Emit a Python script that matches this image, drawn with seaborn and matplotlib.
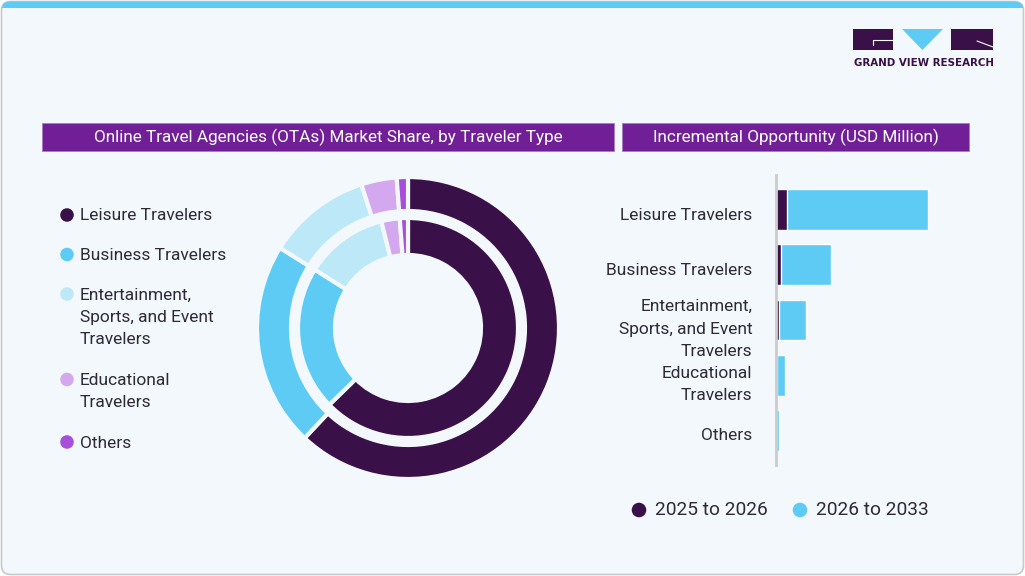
import matplotlib
matplotlib.use("Agg")
import matplotlib.pyplot as plt
import seaborn as sns
import pandas as pd
from matplotlib.patches import FancyBboxPatch, Rectangle, Polygon
from matplotlib.transforms import ScaledTranslation

# ================= Data =================
categories = ["Leisure Travelers", "Business Travelers",
              "Entertainment, Sports, and Event Travelers",
              "Educational Travelers", "Others"]
wrapped_labels = ["Leisure Travelers", "Business Travelers",
                  "Entertainment,\nSports, and Event\nTravelers",
                  "Educational\nTravelers", "Others"]
share_2025 = [62.7, 21.2, 12.2, 2.7, 1.2]      # inner ring
share_2033 = [62.0, 21.9, 11.1, 3.8, 1.2]      # outer ring
opp_2025_2026 = [11, 5, 3, 0.8, 0.3]
opp_2026_2033 = [141, 50, 27, 8.2, 2.7]
period_labels = ["2025 to 2026", "2026 to 2033"]

# ================= Style =================
BG = "#f3f8fc"
TEXT = "#2e2a36"
PURPLE_BAR = "#711f97"
slice_colors = ["#3a1048", "#5ecbf5", "#bde8f8", "#d4a8ee", "#a64fd8"]
C_DARK = "#3a1048"
C_LIGHT = "#5ecbf5"
LSP = 1.62

sns.set_style("white")
plt.rcParams['font.family'] = ['Roboto', 'DejaVu Sans']

W, H = 1025, 576
fig = plt.figure(figsize=(W / 100, H / 100), dpi=100)
fig.patch.set_facecolor("white")


def fx(px):
    return px / W


def fy(py):
    return 1 - py / H


# background overlay in pixel coords
bg = fig.add_axes([0, 0, 1, 1], zorder=0)
bg.set_xlim(0, W)
bg.set_ylim(H, 0)
bg.axis("off")
card = FancyBboxPatch((1.5, 1.5), W - 3, H - 3, boxstyle="round,pad=0,rounding_size=9",
                      facecolor=BG, edgecolor="#c9c9c9", linewidth=1.2)
bg.add_patch(card)
strip = Rectangle((0, 0), W, 8, facecolor=C_LIGHT, edgecolor="none")
bg.add_patch(strip)
strip.set_clip_path(card)

# title bars
bg.add_patch(Rectangle((42, 123), 572, 28, facecolor=PURPLE_BAR, edgecolor="#a77cc0", lw=0.6))
bg.add_patch(Rectangle((622, 123), 347, 28, facecolor=PURPLE_BAR, edgecolor="#a77cc0", lw=0.6))
bg.text(328, 137.5, "Online Travel Agencies (OTAs) Market Share, by Traveler Type",
        color="white", fontsize=12.3, ha="center", va="center")
bg.text(795.5, 137.5, "Incremental Opportunity (USD Million)",
        color="white", fontsize=12.3, ha="center", va="center")

# logo
bg.add_patch(Rectangle((853, 29), 40, 21, facecolor=C_DARK, edgecolor="none"))
bg.plot([873, 893], [40, 40], color="white", lw=0.8)
bg.plot([873, 873], [40, 45], color="white", lw=0.8)
bg.add_patch(Polygon([(902, 29), (943, 29), (922.5, 50)], closed=True,
                     facecolor=C_LIGHT, edgecolor="none"))
bg.add_patch(Rectangle((951, 29), 42, 21, facecolor=C_DARK, edgecolor="none"))
bg.plot([977, 993], [41, 47], color="white", lw=0.8)
bg.text(923.5, 63, "GRAND VIEW RESEARCH", color=C_DARK, fontsize=7.4,
        fontweight="bold", ha="center", va="center", family="DejaVu Sans")

# left legend
y = 215
for lab, col in zip(wrapped_labels, slice_colors):
    bg.scatter([67], [y], s=95, color=col, edgecolor="none")
    bg.text(80, y - 6.5, lab, color=TEXT, fontsize=12.5, ha="left", va="top",
            linespacing=LSP)
    y += (lab.count("\n")) * 23 + 39.5

# bottom legend
for xm, lab, col in zip([639, 800], period_labels, [C_DARK, C_LIGHT]):
    bg.scatter([xm], [510], s=110, color=col, edgecolor="none")
    bg.text(xm + 16, 510, lab, color=TEXT, fontsize=13.8, ha="left", va="center")

# ================= Donut =================
R = 151
cx, cy = 408, 328
axp = fig.add_axes([fx(cx - R), fy(cy + R), 2 * R / W, 2 * R / H], zorder=1)
axp.pie(share_2033, radius=1.0, colors=slice_colors, startangle=90, counterclock=False,
        wedgeprops=dict(width=34 / R, edgecolor=BG, linewidth=3))
axp.pie(share_2025, radius=110 / R, colors=slice_colors, startangle=90, counterclock=False,
        wedgeprops=dict(width=37 / R, edgecolor=BG, linewidth=3))
axp.set_xlim(-1, 1)
axp.set_ylim(-1, 1)
axp.set_aspect("auto")
axp.axis("off")

# ================= Bars =================
df = pd.DataFrame({"Type": wrapped_labels,
                   "Early": opp_2025_2026,
                   "Total": [a + b for a, b in zip(opp_2025_2026, opp_2026_2033)]})
x0, x1, y0, y1 = 776, 960, 175, 465
axb = fig.add_axes([fx(x0), fy(y1), (x1 - x0) / W, (y1 - y0) / H], zorder=1)
axb.patch.set_alpha(0)
sns.barplot(data=df, x="Total", y="Type", color=C_LIGHT, width=0.74,
            saturation=1, ax=axb, orient="h")
sns.barplot(data=df, x="Early", y="Type", color=C_DARK, width=0.74,
            saturation=1, ax=axb, orient="h")
axb.set_xlim(0, x1 - x0)
axb.set_ylim(4.63, -0.63)
axb.set_xlabel("")
axb.set_ylabel("")
axb.set_xticks([])
for s in ["top", "right", "bottom"]:
    axb.spines[s].set_visible(False)
axb.spines["left"].set_color("#cccccc")
axb.spines["left"].set_linewidth(2)
axb.tick_params(axis="y", length=0, pad=17, labelsize=12.5, labelcolor=TEXT)
shift = ScaledTranslation(0, -0.04, fig.dpi_scale_trans)
for t in axb.get_yticklabels():
    t.set_linespacing(LSP)
    t.set_transform(t.get_transform() + shift)

fig.savefig("out.png", dpi=100, facecolor="white")
